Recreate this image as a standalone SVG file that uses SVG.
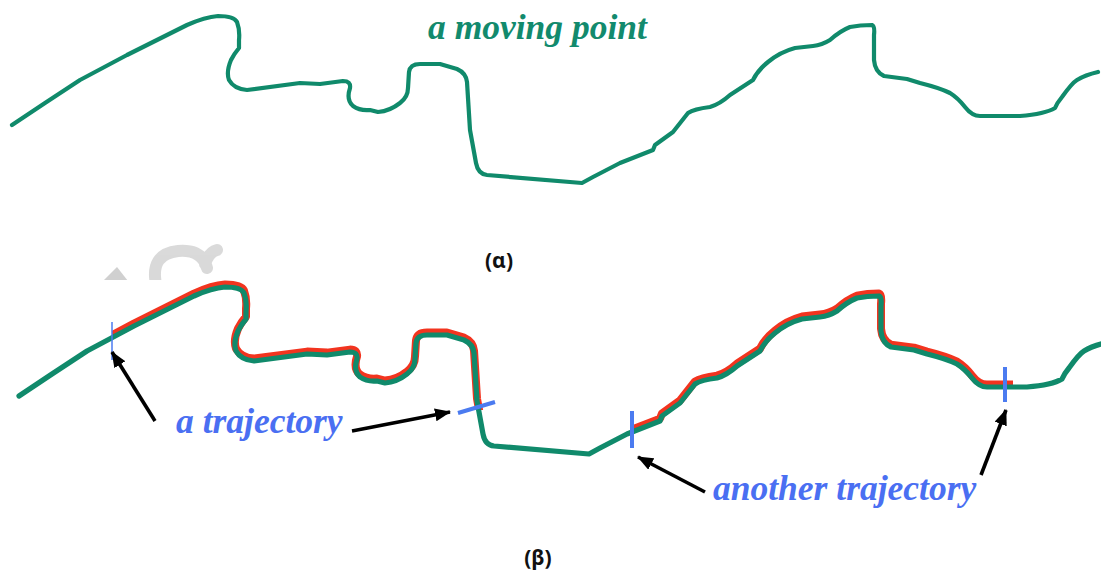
<svg xmlns="http://www.w3.org/2000/svg" xmlns:xlink="http://www.w3.org/1999/xlink" width="1101" height="573" viewBox="0 0 1101 573">
  <style>
    .path-green { fill: none; stroke: #108a6b; stroke-linejoin: round; stroke-linecap: round; }
    .path-red { fill: none; stroke: #f2341f; stroke-width: 8; stroke-linejoin: round; stroke-linecap: butt; }
    .cut { stroke: #4b7bf0; stroke-width: 4; }
    .arrow { stroke: #000; stroke-width: 3.6; fill: none; }
    .serif { font-family: "Liberation Serif", "Times New Roman", serif; font-weight: bold; font-style: italic; font-size: 35.5px; }
    .cap { font-family: "Noto Sans", "Open Sans", sans-serif; font-weight: bold; font-size: 21px; fill: #111; text-anchor: middle; }
  </style>
  <defs>
    <!-- the path of the moving point -->
    <path id="track" d="M12,125 L45,103 L80,80 L127,55 L187,25 Q205,17 218,16 Q234,16 237,22 Q240,30 239,40 L239,48 Q234,54 231,60 Q226,72 229,80 Q234,89 247,90 L300,83 L320,84 L343,81 Q351,81 350,88 Q346,100 353,106 Q360,111 370,110 L378,112 Q390,111 400,103 Q408,97 408,88 L409,72 Q410,64 420,64 L440,64 L457,69 Q466,73 467,82 L470,130 L476,163 Q478,174 487,175 L582,183 L593,177 L620,163 L653,150 L655,145 L673,132 L688,113 Q694,109 710,107 Q720,104 730,95 L753,80 Q758,70 768,62 Q780,52 795,48 L813,46 Q822,45 830,40 Q840,31 850,27 Q860,25 872,25 Q875,26 874,35 L874,60 Q875,72 884,76 L907,79 L920,83 Q940,88 950,93 Q958,98 965,107 Q972,116 980,116 L1020,116 Q1045,114 1055,108 Q1057,103 1062,97 Q1072,83 1077,80 Q1085,75 1098,72"/>
    <clipPath id="seg1"><rect x="112" y="0" width="388" height="410"/></clipPath>
    <clipPath id="seg2"><rect x="632" y="0" width="381" height="573"/></clipPath>
    <clipPath id="markCut"><rect x="0" y="236" width="260" height="44"/></clipPath>
    <marker id="head" markerUnits="userSpaceOnUse" markerWidth="16" markerHeight="13" refX="15" refY="6.5" orient="auto">
      <path d="M0,0 L16,6.5 L0,13 Z" fill="#000"/>
    </marker>
  </defs>

  <!-- faint grey mark behind the lower curve -->
  <g id="mark" clip-path="url(#markCut)" opacity="0.7">
    <path d="M103,281 L117,267 L128,281 Z" fill="#bdbdbd"/>
    <path d="M156,284 Q150,254 178,251 Q202,249 207,268 M205,264 Q209,252 217,250" fill="none" stroke="#cacaca" stroke-width="12" stroke-linecap="round"/>
  </g>

  <!-- (a) a single moving point -->
  <g id="curve-a">
    <use xlink:href="#track" class="path-green" stroke-width="4.2"/>
    <text class="serif" x="428" y="39" fill="#128a6d">a moving point</text>
  </g>
  <text id="caption-a" class="cap" x="499" y="268">(α)</text>

  <!-- (b) the same path cut into trajectories -->
  <g id="curve-b">
    <g clip-path="url(#seg1)"><use xlink:href="#track" class="path-red" transform="translate(7,268.6)"/></g>
    <g clip-path="url(#seg2)"><use xlink:href="#track" class="path-red" transform="translate(7,268.6)"/></g>
    <use xlink:href="#track" class="path-green" stroke-width="5.2" transform="translate(7,271)"/>
  </g>

  <g id="cuts">
    <line x1="112" y1="322" x2="112" y2="360" stroke="#4b7bf0" stroke-width="1.5"/>
    <line class="cut" x1="458" y1="413" x2="495" y2="402"/>
    <line class="cut" x1="632" y1="411" x2="632" y2="448"/>
    <line class="cut" x1="1005" y1="367" x2="1005" y2="402"/>
  </g>

  <g id="connectors">
    <line class="arrow" x1="155" y1="421" x2="112" y2="352" marker-end="url(#head)"/>
    <line class="arrow" x1="352" y1="431" x2="450" y2="412" marker-end="url(#head)"/>
    <line class="arrow" x1="705" y1="492" x2="638" y2="457" marker-end="url(#head)"/>
    <line class="arrow" x1="981" y1="475" x2="1006" y2="410" marker-end="url(#head)"/>
  </g>

  <g id="labels">
    <text class="serif" x="176" y="433" fill="#4a6ff2">a trajectory</text>
    <text class="serif" x="713" y="500" fill="#4a6ff2">another trajectory</text>
  </g>
  <text id="caption-b" class="cap" x="538" y="565">(β)</text>
</svg>
